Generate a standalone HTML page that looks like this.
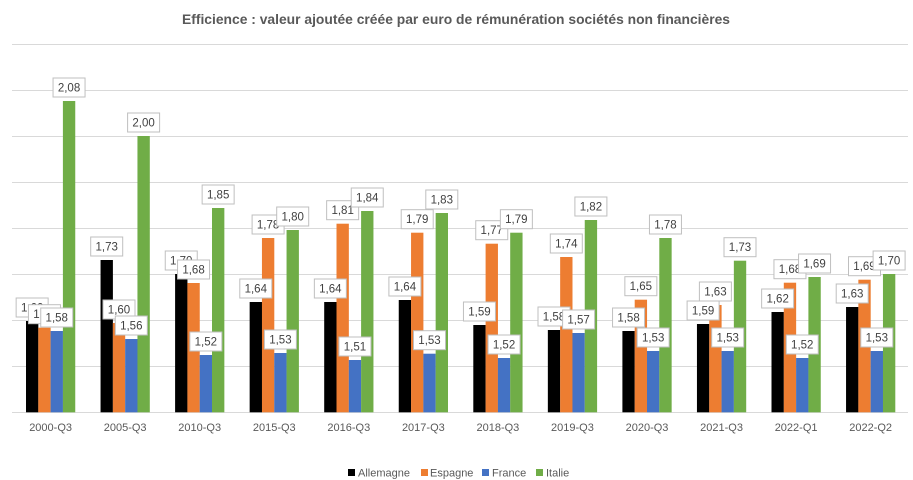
<!DOCTYPE html>
<html><head><meta charset="utf-8"><style>
html,body{margin:0;padding:0;background:#fff;}
svg{display:block;}
text{font-family:"Liberation Sans",sans-serif;}
</style></head><body>
<svg width="913" height="480" viewBox="0 0 913 480" xmlns="http://www.w3.org/2000/svg">
<rect width="913" height="480" fill="#fff"/>
<text x="456" y="24" text-anchor="middle" font-size="14" font-weight="bold" fill="#595959" textLength="548" lengthAdjust="spacingAndGlyphs">Efficience : valeur ajoutée créée par euro de rémunération sociétés non financières</text>
<g stroke="#d9d9d9" stroke-width="1">
<line x1="12" x2="908" y1="44.5" y2="44.5"/>
<line x1="12" x2="908" y1="90.5" y2="90.5"/>
<line x1="12" x2="908" y1="136.5" y2="136.5"/>
<line x1="12" x2="908" y1="182.5" y2="182.5"/>
<line x1="12" x2="908" y1="228.5" y2="228.5"/>
<line x1="12" x2="908" y1="274.5" y2="274.5"/>
<line x1="12" x2="908" y1="320.5" y2="320.5"/>
<line x1="12" x2="908" y1="366.5" y2="366.5"/>
<line x1="12" x2="908" y1="412.5" y2="412.5"/>
</g>
<g id="bars"></g>
<g id="labels"></g>
<g id="axis" font-size="11" fill="#595959" text-anchor="middle"></g>
<g font-size="11" fill="#595959">
<rect x="348" y="469" width="7" height="7" fill="#000"/>
<text x="358" y="476.5">Allemagne</text>
<rect x="421" y="469" width="7" height="7" fill="#ED7D31"/>
<text x="430" y="476.5">Espagne</text>
<rect x="482" y="469" width="7" height="7" fill="#4472C4"/>
<text x="492" y="476.5">France</text>
<rect x="536" y="469" width="7" height="7" fill="#70AD47"/>
<text x="546" y="476.5">Italie</text>
</g>
</svg>
<script>
var cats=["2000-Q3","2005-Q3","2010-Q3","2015-Q3","2016-Q3","2017-Q3","2018-Q3","2019-Q3","2020-Q3","2021-Q3","2022-Q1","2022-Q2"];
var tops=[
[321,327.7,331,101],
[260,323,339,136],
[274,283,355,208],
[302,238,353,230],
[302,223.7,360,211],
[300,232.7,353.7,213],
[325,243.7,358,232.7],
[330,257,333,220],
[331,299.7,351,238],
[324,305,351,260.7],
[312,282.7,358,277],
[307,279.7,351,274]];
var labs=[
["1,60","1,59","1,58","2,08"],
["1,73","1,60","1,56","2,00"],
["1,70","1,68","1,52","1,85"],
["1,64","1,78","1,53","1,80"],
["1,64","1,81","1,51","1,84"],
["1,64","1,79","1,53","1,83"],
["1,59","1,77","1,52","1,79"],
["1,58","1,74","1,57","1,82"],
["1,58","1,65","1,53","1,78"],
["1,59","1,63","1,53","1,73"],
["1,62","1,68","1,52","1,69"],
["1,63","1,69","1,53","1,70"]];
var cols=["#000000","#ED7D31","#4472C4","#70AD47"];
var NS="http://www.w3.org/2000/svg";
var bars=document.getElementById("bars"),lg=document.getElementById("labels"),ax=document.getElementById("axis");
function el(n,a,p,t){var e=document.createElementNS(NS,n);for(var k in a)e.setAttribute(k,a[k]);if(t!==undefined)e.textContent=t;p.appendChild(e);return e;}
var bw=12.3,base=412.3;
for(var i=0;i<12;i++){
  var x0=26+i*74.55;
  for(var s=0;s<4;s++){
    var x=x0+s*bw;
    el("rect",{x:x.toFixed(2),y:tops[i][s],width:(bw+0.05).toFixed(2),height:(base-tops[i][s]).toFixed(2),fill:cols[s]},bars);
  }
  el("text",{x:(x0+24.6).toFixed(2),y:431},ax,cats[i]);
}
for(var s=0;s<4;s++){
  for(var i=0;i<12;i++){
    var cx=26+i*74.55+s*bw+bw/2;
    var by=tops[i][s]-4;
    var g=el("g",{},lg);
    el("rect",{x:(cx-16).toFixed(2),y:(by-19).toFixed(2),width:32,height:19,fill:"#fff",stroke:"#bfbfbf","stroke-width":1},g);
    el("text",{x:cx.toFixed(2),y:(by-5.5).toFixed(2),"font-size":"11.5",fill:"#404040","text-anchor":"middle"},g,labs[i][s]);
  }
}
</script>
</body></html>
